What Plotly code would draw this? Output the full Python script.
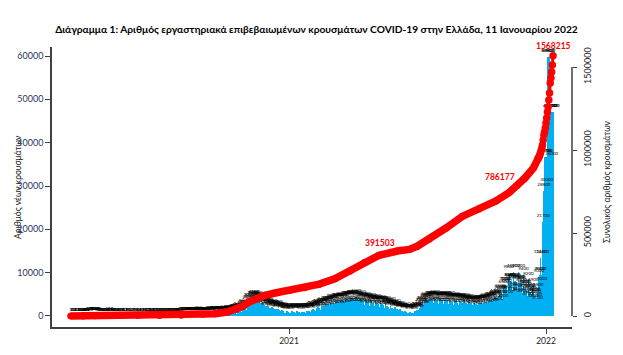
import pandas as pd
import plotly.graph_objects as go

# ---------------- DATA ----------------
start_date = "2020-02-26"
# daily new cases, one row per week (Wed..Tue)
weekly_rows = [
    [1, 2, 0, 0, 0, 0, 3],
    [2, 22, 11, 14, 7, 7, 16],
    [10, 18, 41, 38, 38, 21, 48],
    [31, 46, 31, 46, 94, 68, 71],
    [48, 71, 74, 95, 60, 62, 102],
    [101, 129, 60, 58, 47, 62, 37],
    [45, 56, 25, 56, 14, 33, 43],
    [23, 43, 24, 20, 4, 34, 156],
    [62, 15, 22, 10, 12, 6, 28],
    [15, 25, 12, 10, 5, 6, 10],
    [8, 9, 11, 5, 4, 6, 10],
    [12, 10, 7, 9, 10, 7, 5],
    [3, 3, 10, 2, 2, 7, 9],
    [3, 10, 8, 7, 4, 6, 19],
    [4, 4, 8, 12, 7, 9, 4],
    [10, 5, 6, 1, 17, 12, 21],
    [16, 14, 17, 13, 11, 6, 8],
    [12, 7, 14, 15, 12, 11, 19],
    [16, 5, 19, 2, 14, 7, 14],
    [23, 29, 18, 17, 13, 3, 29],
    [30, 23, 12, 23, 20, 19, 23],
    [18, 34, 22, 28, 24, 25, 33],
    [37, 53, 41, 78, 110, 32, 121],
    [124, 153, 138, 203, 151, 126, 262],
    [186, 229, 212, 217, 230, 150, 269],
    [234, 250, 284, 202, 161, 194, 293],
    [243, 244, 239, 204, 128, 156, 262],
    [230, 249, 265, 225, 143, 134, 284],
    [271, 372, 325, 332, 216, 208, 342],
    [338, 453, 390, 380, 250, 199, 421],
    [410, 450, 405, 395, 270, 230, 480],
    [470, 520, 490, 450, 310, 270, 560],
    [560, 620, 600, 550, 400, 330, 750],
    [780, 850, 820, 780, 560, 460, 1050],
    [1150, 1250, 1200, 1150, 850, 700, 1550],
    [1750, 1950, 1900, 1800, 1300, 1150, 2700],
    [3000, 3350, 3300, 3100, 2300, 1900, 3800],
    [3900, 4150, 4000, 3700, 2600, 2100, 3900],
    [3600, 3500, 3300, 3000, 2200, 1700, 3100],
    [2900, 2700, 2500, 2300, 1600, 1300, 2400],
    [2200, 2100, 1900, 1800, 1300, 1000, 2000],
    [1800, 1700, 1600, 1500, 1100, 850, 1700],
    [1500, 1400, 1300, 1200, 900, 700, 1300],
    [1100, 1000, 800, 650, 600, 500, 1050],
    [1000, 950, 800, 550, 500, 650, 1100],
    [900, 950, 1000, 900, 700, 550, 1050],
    [1000, 950, 900, 850, 650, 500, 1000],
    [950, 1000, 950, 900, 700, 550, 1100],
    [1150, 1200, 1150, 1100, 850, 650, 1350],
    [1450, 1550, 1500, 1400, 1100, 850, 1800],
    [1900, 2000, 1950, 1850, 1400, 1100, 2300],
    [2300, 2400, 2350, 2200, 1700, 1300, 2700],
    [2700, 2800, 2700, 2550, 1950, 1500, 3100],
    [3000, 3100, 3000, 2850, 2200, 1700, 3400],
    [3300, 3400, 3300, 3100, 2400, 1900, 3700],
    [3500, 3650, 3500, 3300, 2600, 2000, 3900],
    [3800, 3900, 3800, 3600, 2800, 2200, 4200],
    [4050, 4150, 4000, 3800, 2900, 2300, 4300],
    [3800, 3900, 3750, 3600, 2800, 2200, 4000],
    [3500, 3600, 3450, 3300, 2550, 2000, 3700],
    [3200, 3300, 3200, 3000, 2350, 1850, 3400],
    [3000, 3100, 3000, 2800, 2200, 1700, 3200],
    [2800, 2900, 2800, 2650, 2050, 1600, 3000],
    [2600, 2700, 2600, 2450, 1900, 1500, 2800],
    [2200, 2300, 2200, 2050, 1600, 1250, 2400],
    [1800, 1900, 1800, 1700, 1300, 1000, 2000],
    [1450, 1500, 1400, 1300, 1000, 800, 1600],
    [1100, 1150, 1100, 1000, 800, 600, 1250],
    [850, 850, 800, 750, 550, 450, 900],
    [750, 800, 750, 750, 600, 500, 1050],
    [1200, 1300, 1350, 1400, 1100, 900, 1900],
    [2300, 2500, 2600, 2600, 2100, 1700, 3200],
    [3400, 3600, 3500, 3400, 2700, 2200, 3800],
    [3800, 3900, 3800, 3600, 2900, 2400, 4000],
    [3700, 3800, 3700, 3500, 2800, 2300, 3900],
    [3600, 3700, 3600, 3400, 2700, 2200, 3800],
    [3700, 3800, 3700, 3500, 2800, 2300, 3900],
    [3400, 3500, 3400, 3200, 2600, 2100, 3600],
    [3300, 3400, 3300, 3100, 2500, 2000, 3500],
    [3200, 3300, 3200, 3000, 2400, 1950, 3400],
    [3000, 3100, 3000, 2800, 2250, 1800, 3200],
    [2800, 2900, 2800, 2650, 2100, 1700, 3000],
    [2700, 2800, 2700, 2550, 2000, 1600, 2900],
    [2900, 3000, 2900, 2750, 2150, 1750, 3100],
    [3200, 3300, 3200, 3000, 2400, 1950, 3450],
    [3600, 3700, 3600, 3400, 2700, 2200, 3900],
    [4200, 4300, 4200, 3950, 3100, 2500, 4600],
    [5300, 5500, 5300, 5000, 4000, 3200, 6500],
    [7000, 7200, 7000, 6600, 5200, 4200, 9800],
    [8000, 8100, 7900, 7500, 5900, 4700, 10200],
    [8000, 8100, 7900, 7400, 5800, 4600, 10200],
    [7500, 7600, 7300, 6900, 5400, 4300, 9400],
    [6500, 6600, 6400, 6000, 4700, 3700, 8200],
    [5500, 5600, 5400, 5100, 4000, 3200, 6900],
    [4600, 4700, 4500, 4200, 3300, 2700, 5800],
    [9000, 9500, 13400, 9500, 7000, 13400, 21700],
    [28800, 36700, 36700, 36700, 30000, 59800, 59800],
    [59800, 47100, 47100, 47100, 36000, 47100, 47100],
]

# cumulative total (right axis)
cum_dates = [
    "2020-02-26", "2020-03-15", "2020-04-01", "2020-05-01", "2020-06-01",
    "2020-07-01", "2020-08-01", "2020-09-01", "2020-09-18", "2020-10-05",
    "2020-10-17", "2020-10-28", "2020-11-05", "2020-11-16", "2020-11-28",
    "2020-12-14", "2021-01-01", "2021-01-23", "2021-02-13", "2021-03-07",
    "2021-03-28", "2021-04-18", "2021-05-09", "2021-06-04", "2021-06-21",
    "2021-07-02", "2021-07-19", "2021-08-12", "2021-09-04", "2021-09-28",
    "2021-10-22", "2021-11-10", "2021-11-21", "2021-12-02", "2021-12-14",
    "2021-12-21", "2021-12-22", "2021-12-23", "2021-12-24", "2021-12-25",
    "2021-12-26", "2021-12-27", "2021-12-28", "2021-12-29", "2021-12-30",
    "2021-12-31", "2022-01-01", "2022-01-02", "2022-01-03", "2022-01-04",
    "2022-01-05", "2022-01-06", "2022-01-07", "2022-01-08", "2022-01-09",
    "2022-01-10", "2022-01-11",
]
cum_values = [
    1, 300, 1400, 2600, 3000,
    3500, 4600, 10500, 14000, 24000,
    38000, 60000, 84000, 106000, 125000,
    140000, 153000, 170000, 192000, 224000,
    270000, 323000, 366000, 391503, 401000,
    420000, 462000, 530000, 600000, 645000,
    693000, 745000, 786177, 831000, 891000,
    950000, 958000, 968000, 980000, 995000,
    1010000, 1030000, 1060000, 1090000, 1108000,
    1133000, 1163000, 1193000, 1229000, 1259000,
    1301000, 1343000, 1404000, 1434000, 1470000,
    1512000, 1568215,
]
daily_dots_from = "2021-12-21"   # from here on each day is a separate dot

milestone_dates = ["2021-06-04", "2021-11-21", "2022-01-11"]
milestone_values = [391503, 786177, 1568215]

title_text = ("Διάγραμμα 1: Αριθμός εργαστηριακά επιβεβαιωμένων κρουσμάτων "
              "COVID-19 στην Ελλάδα, 11 Ιανουαρίου 2022")
left_title = "Αριθμός νέων κρουσμάτων"
right_title = "Συνολικός αριθμός κρουσμάτων"
x_tick_vals = ["2021-01-01", "2022-01-01"]
x_tick_text = ["2021", "2022"]
left_ticks = [0, 10000, 20000, 30000, 40000, 50000, 60000]
right_ticks = [0, 500000, 1000000, 1500000]

# ---------------- BUILD ----------------
daily_cases = [v for row in weekly_rows for v in row]
dates = pd.date_range(start_date, periods=len(daily_cases), freq="D")
cum_dt = pd.to_datetime(cum_dates)
split = list(cum_dates).index(daily_dots_from)

FONT = "Lato, 'Liberation Sans', Arial, sans-serif"
AX = "#404040"

fig = go.Figure()
fig.add_trace(go.Bar(
    x=dates, y=daily_cases, marker=dict(color="#00B0F0", line=dict(width=0)),
    yaxis="y", hoverinfo="skip", showlegend=False,
))
# value labels above each day (invisible marker pushes the text a bit higher)
fig.add_trace(go.Scatter(
    x=dates, y=daily_cases, mode="markers+text", text=[str(v) for v in daily_cases],
    marker=dict(size=5, opacity=0),
    textposition="top center", textfont=dict(size=4.5, color="#000000", family=FONT),
    yaxis="y", hoverinfo="skip", showlegend=False, cliponaxis=False,
))
fig.add_trace(go.Scatter(
    x=cum_dt[:split + 1], y=cum_values[:split + 1], mode="lines+markers",
    line=dict(color="#FF0000", width=7.5), marker=dict(color="#FF0000", size=7),
    yaxis="y2", hoverinfo="skip", showlegend=False, cliponaxis=False,
))
fig.add_trace(go.Scatter(
    x=cum_dt[split:], y=cum_values[split:], mode="lines+markers",
    line=dict(color="#FF0000", width=3), marker=dict(color="#FF0000", size=7.5),
    yaxis="y2", hoverinfo="skip", showlegend=False, cliponaxis=False,
))

annotations = []
anchors = ["right", "right", "center"]
shifts = [8, 8, 10]
for d, v, a, s in zip(milestone_dates, milestone_values, anchors, shifts):
    annotations.append(dict(
        x=d, y=v, xref="x", yref="y2", text=f"<b>{v}</b>", showarrow=False,
        xanchor=a, yanchor="middle", yshift=s,
        font=dict(size=8.5, color="#FF0000", family=FONT),
    ))
annotations.append(dict(
    x=(18 - 52) / 520, y=(327 - 187) / 280, xref="paper", yref="paper",
    text=left_title, textangle=-90, showarrow=False, xanchor="center", yanchor="middle",
    font=dict(size=8.5, color="#222222", family=FONT),
))
annotations.append(dict(
    x=(607 - 52) / 520, y=(327 - 182) / 280, xref="paper", yref="paper",
    text=right_title, textangle=-90, showarrow=False, xanchor="center", yanchor="middle",
    font=dict(size=8.5, color="#222222", family=FONT),
))

fig.update_layout(
    width=623, height=355,
    margin=dict(l=52, r=51, t=47, b=28, autoexpand=False),
    paper_bgcolor="white", plot_bgcolor="white",
    bargap=0,
    font=dict(family=FONT, color="#222222"),
    title=dict(text=f"<b>{title_text}</b>", x=0.508, xanchor="center",
               y=1 - 29 / 355, yanchor="middle",
               font=dict(size=10.2, color="#000000", family=FONT)),
    xaxis=dict(
        type="date", range=["2020-01-30 10:00", "2022-02-06 22:00"], automargin=False,
        showgrid=False, zeroline=False, showline=True, linecolor=AX, linewidth=1.5,
        ticks="outside", ticklen=5, tickcolor=AX, tickwidth=1.2,
        tickvals=x_tick_vals, ticktext=x_tick_text,
        tickfont=dict(size=8.5, color="#222222"),
    ),
    yaxis=dict(
        range=[-2540, 62080], showgrid=False, zeroline=False, automargin=False,
        showline=True, linecolor=AX, linewidth=1.5,
        ticks="outside", ticklen=5, tickcolor=AX, tickwidth=1.2,
        tickvals=left_ticks, ticktext=[str(t) for t in left_ticks],
        tickfont=dict(size=9, color="#1F3864"),
    ),
    yaxis2=dict(
        overlaying="y", side="right", range=[-66265, 1620480], automargin=False,
        showgrid=False, zeroline=False, showline=False,
        ticks="outside", ticklen=4, tickcolor=AX, tickwidth=1.2,
        tickvals=right_ticks, ticktext=[str(t) for t in right_ticks],
        tickangle=-90, ticklabelstandoff=3,
        tickfont=dict(size=9, color="#222222"),
    ),
    shapes=[dict(type="line", xref="paper", yref="y2", x0=1, x1=1,
                 y0=0, y1=1500000, line=dict(color=AX, width=1.5))],
    annotations=annotations,
)

fig.write_html(
    "out.html",
    config={"displayModeBar": False},
    post_script="document.body.style.margin='0';document.body.style.overflow='hidden';",
)
